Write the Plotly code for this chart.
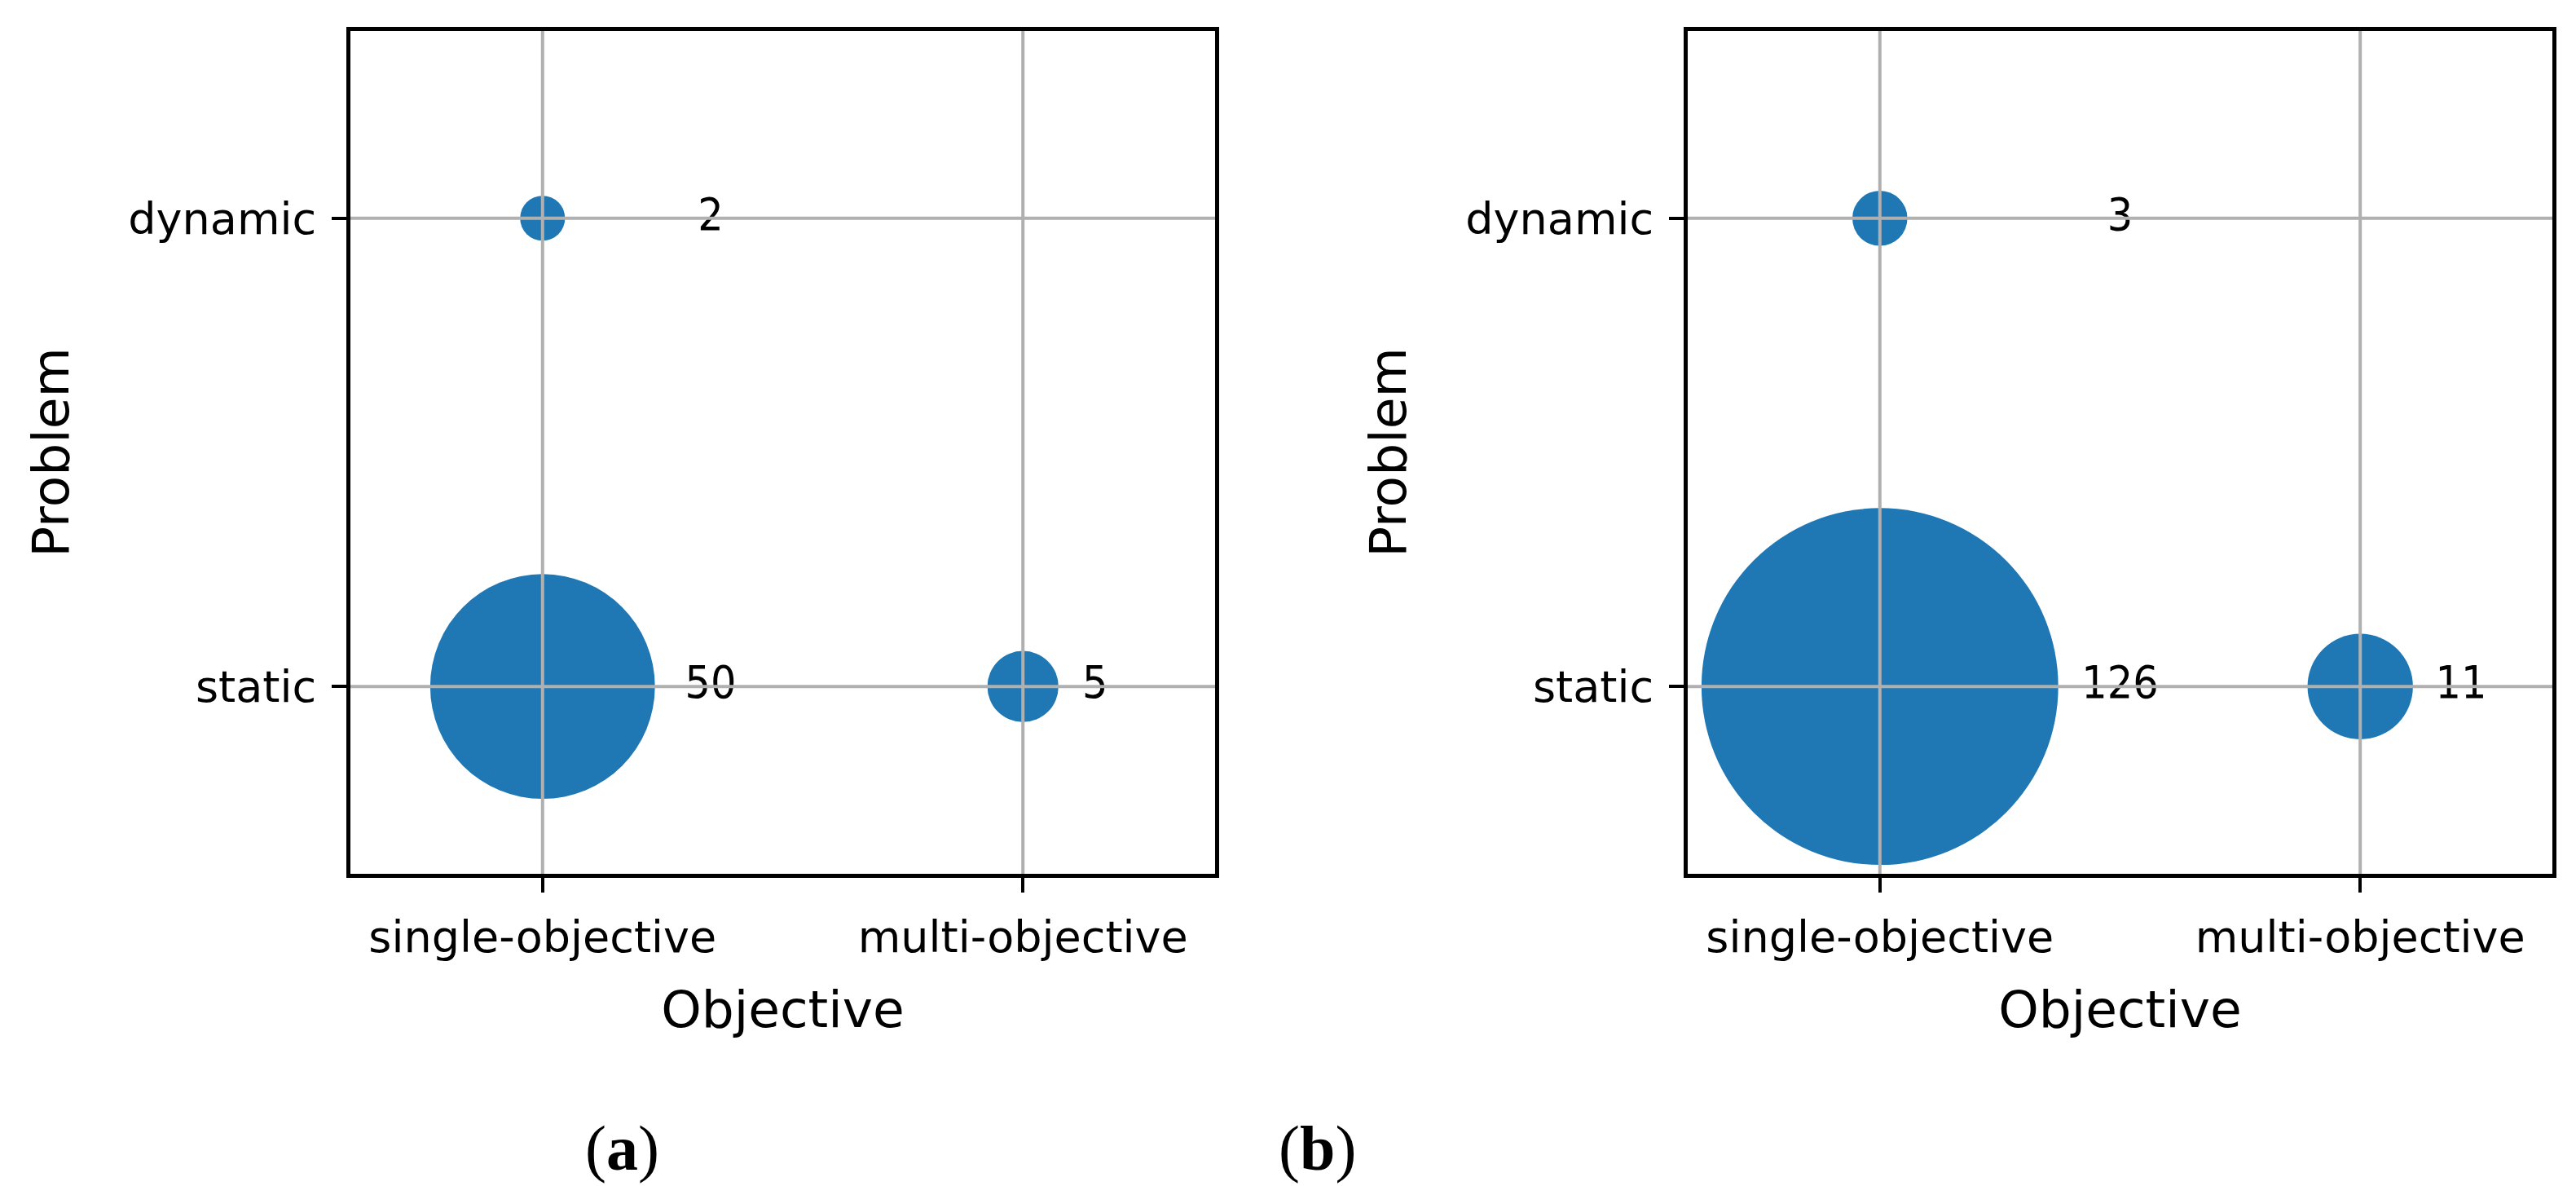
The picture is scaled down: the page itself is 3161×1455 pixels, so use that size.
import plotly.graph_objects as go
from plotly.subplots import make_subplots

# categories
objectives = ["single-objective", "multi-objective"]
problems = ["static", "dynamic"]

# panel (a): counts per (objective, problem)
a_objective = ["single-objective", "single-objective", "multi-objective"]
a_problem = ["dynamic", "static", "static"]
a_count = [2, 50, 5]

# panel (b)
b_objective = ["single-objective", "single-objective", "multi-objective"]
b_problem = ["dynamic", "static", "static"]
b_count = [3, 126, 11]

captions = ["a", "b"]

W, H = 3161, 1455
BLUE = "#1f77b4"
GRID = "#b0b0b0"
TICK_FONT = dict(family="DejaVu Sans", size=54, color="black")
TITLE_FONT = dict(family="DejaVu Sans", size=63, color="black")
NUM_FONT = dict(family="DejaVu Sans Condensed, Liberation Sans Narrow, DejaVu Sans", size=55, color="black")
# diameter in px = 39 * sqrt(count)
SIZEREF = 2.0 / 39 ** 2
# horizontal offset of the count labels per objective column (data units)
LABEL_DX = [[0.35, 0.15], [0.50, 0.21]]
CAPTION_X = [0.239, 0.509]

fig = make_subplots(rows=1, cols=2)

xi = {o: i for i, o in enumerate(objectives)}
yi = {p: i for i, p in enumerate(problems)}

panels = [(a_objective, a_problem, a_count), (b_objective, b_problem, b_count)]
for k, (objs, probs, counts) in enumerate(panels):
    col = k + 1
    xs = [xi[o] for o in objs]
    ys = [yi[p] for p in probs]
    fig.add_trace(go.Scatter(
        x=xs, y=ys, mode="markers",
        marker=dict(size=counts, sizemode="area", sizeref=SIZEREF,
                    color=BLUE, line=dict(width=0), opacity=1),
        showlegend=False, cliponaxis=False), row=1, col=col)
    # grid lines drawn over the bubbles, like the original
    xa = "x" if k == 0 else "x2"
    ya = "y" if k == 0 else "y2"
    for v in range(len(objectives)):
        fig.add_shape(type="line", xref=xa, yref=ya + " domain", x0=v, x1=v, y0=0, y1=1,
                      line=dict(color=GRID, width=4), layer="above")
    for v in range(len(problems)):
        fig.add_shape(type="line", xref=xa + " domain", yref=ya, x0=0, x1=1, y0=v, y1=v,
                      line=dict(color=GRID, width=4), layer="above")
    fig.add_trace(go.Scatter(
        x=[x + LABEL_DX[k][x] for x in xs], y=ys, mode="text",
        text=[str(c) for c in counts], textposition="middle center",
        textfont=NUM_FONT, showlegend=False, cliponaxis=False), row=1, col=col)

axis_common = dict(
    range=[-0.4, 1.4], showgrid=False, zeroline=False,
    showline=True, mirror=True, linecolor="black", linewidth=5,
    ticks="outside", ticklen=18, tickwidth=4, tickcolor="black",
    tickfont=TICK_FONT, ticklabelstandoff=8,
)

x_domains = [[422 / W, 1483 / W], [2063 / W, 3124 / W]]
y_domain = [1 - 1064 / H, 1 - 30 / H]
for k in range(2):
    fig.update_xaxes(axis_common, domain=x_domains[k],
                     tickvals=list(range(len(objectives))), ticktext=objectives,
                     title=dict(text="Objective", font=TITLE_FONT, standoff=38),
                     row=1, col=k + 1)
    fig.update_yaxes(axis_common, domain=y_domain,
                     tickvals=list(range(len(problems))), ticktext=problems,
                     title=dict(text="Problem", font=TITLE_FONT, standoff=54),
                     row=1, col=k + 1)

for k, c in enumerate(captions):
    fig.add_annotation(x=CAPTION_X[k], y=1 - 1400 / H, xref="paper", yref="paper",
                       xanchor="center", yanchor="middle",
                       text="(<b>" + c + "</b>)", showarrow=False,
                       font=dict(family="Liberation Serif", size=78, color="black"))

fig.update_layout(
    width=W, height=H,
    margin=dict(l=0, r=0, t=0, b=0, autoexpand=False),
    plot_bgcolor="white", paper_bgcolor="white",
)

fig.write_html("out.html")
